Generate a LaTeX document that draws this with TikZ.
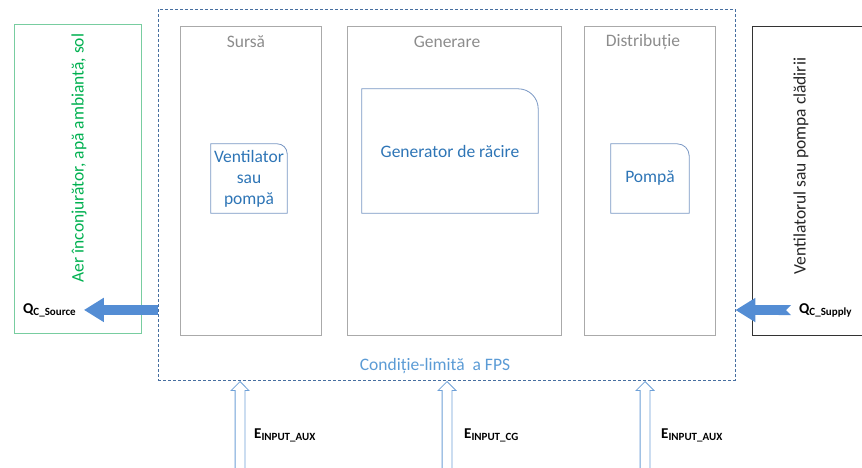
\documentclass[tikz,border=0pt]{standalone}
\usepackage{fontspec}
\setmainfont{Carlito}
\usetikzlibrary{positioning,arrows.meta,shapes.arrows}
\definecolor{stagegray}{RGB}{170,170,170}
\definecolor{titlegray}{RGB}{140,140,140}
\definecolor{textblue}{RGB}{46,117,182}
\definecolor{boxblue}{RGB}{120,150,195}
\definecolor{envgreen}{RGB}{120,205,160}
\definecolor{envtext}{RGB}{0,176,80}
\definecolor{dashblue}{RGB}{70,110,160}
\definecolor{fpsblue}{RGB}{91,155,213}
\definecolor{arrowblue}{RGB}{84,141,212}
\definecolor{einblue}{RGB}{110,160,215}
\newcommand{\flowsym}[2]{#1\raisebox{-0.3ex}{\fontsize{11}{12}\selectfont #2}}
\newcommand{\cornerbox}[2]{\draw[deviceline] (#1.south west) -- (#1.north west) -- ([xshift=-#2]#1.north east) arc[start angle=90,end angle=0,radius=#2] -- (#1.south east) -- cycle;}

\begin{document}
\begin{tikzpicture}[x=1pt,y=1pt,
  stage/.style={draw=stagegray, line width=0.8pt, minimum height=309pt},
  stagetitle/.style={text=titlegray, font=\fontsize{17.5}{21}\selectfont},
  device/.style={text=textblue, font=\fontsize{17.5}{21}\selectfont, align=center, inner sep=0pt},
  deviceline/.style={draw=boxblue, line width=0.8pt},
  flow/.style={font=\fontsize{15}{17}\selectfont\bfseries, inner sep=2pt},
  heatflow/.style={line width=10pt, draw=arrowblue, -{Triangle[width=23pt,length=20pt]}},
  einput/.style={single arrow, draw=einblue, fill=white, line width=0.8pt, shape border rotate=90,
    minimum width=17pt, minimum height=100pt, single arrow head extend=4pt, inner sep=4.5pt, anchor=tip}]
\useasboundingbox (0,0) rectangle (862,-468);
\node[stage, minimum width=141pt] (sursa) at (250.5,-180.5) {};
\node[stage, minimum width=214pt] (generare) at (454,-180.5) {};
\node[stage, minimum width=131pt] (distributie) at (649.5,-180.5) {};
\node[draw=envgreen, line width=0.8pt, minimum width=127pt, minimum height=309pt] (mediu) at (77.5,-178.5) {};
\node[draw=black!80, line width=0.8pt, minimum width=118pt, minimum height=309pt] (cladire) at (811,-180.5) {};
\node[draw=dashblue, dash pattern=on 3pt off 2pt, line width=0.9pt, minimum width=577pt, minimum height=371pt] (fps) at (446.5,-194.5) {};

\node[stagetitle] (tsursa) at (246,-42) {Sursă};
\node[stagetitle] (tgenerare) at (447,-42) {Generare};
\node[stagetitle] (tdistributie) at (643,-42) {Distribuție};

\node[device, minimum width=76pt, minimum height=69pt] (vent) at (249,-178.5) {Ventilator\\sau\\pompă};
\cornerbox{vent}{10pt}
\node[device, minimum width=176pt, minimum height=124pt] (gen) at (450,-151) {Generator de răcire};
\cornerbox{gen}{20pt}
\node[device, minimum width=78pt, minimum height=69pt] (pompa) at (650,-178.5) {Pompă};
\cornerbox{pompa}{12pt}

\node[rotate=90, text=envtext, font=\fontsize{17.5}{21}\selectfont] (tmediu) at (79,-158) {Aer înconjurător, apă ambiantă, sol};
\node[rotate=90, text=black!85, font=\fontsize{17.5}{21}\selectfont] (tcladire) at (801,-166) {Ventilatorul sau pompa clădirii};
\node[text=fpsblue, font=\fontsize{17.5}{21}\selectfont] (tfps) at (435,-366) {Condiție-limită\ \ a FPS};

\node[flow, anchor=base west] (qsrc) at (21,-313) {\flowsym{Q}{C\_Source}};
\node[flow, anchor=base west] (qsup) at (797,-313) {\flowsym{Q}{C\_Supply}};
\draw[heatflow, shorten >=6pt] (fps.west |- qsrc) -- (qsrc.east);
\draw[heatflow, {Triangle Cap[reversed]}-{Triangle[width=23pt,length=20pt]}, shorten <=6pt] (qsup.west) -- (fps.east |- qsup);

\node[einput] (ein1) at (240,-381) {};
\node[einput] (ein2) at (447,-381) {};
\node[einput] (ein3) at (645,-381) {};
\node[flow, anchor=base west] (eaux1) at (252,-438) {\flowsym{E}{INPUT\_AUX}};
\node[flow, anchor=base west] (ecg) at (462,-438) {\flowsym{E}{INPUT\_CG}};
\node[flow, anchor=base west] (eaux2) at (659,-438) {\flowsym{E}{INPUT\_AUX}};
\end{tikzpicture}
\end{document}
